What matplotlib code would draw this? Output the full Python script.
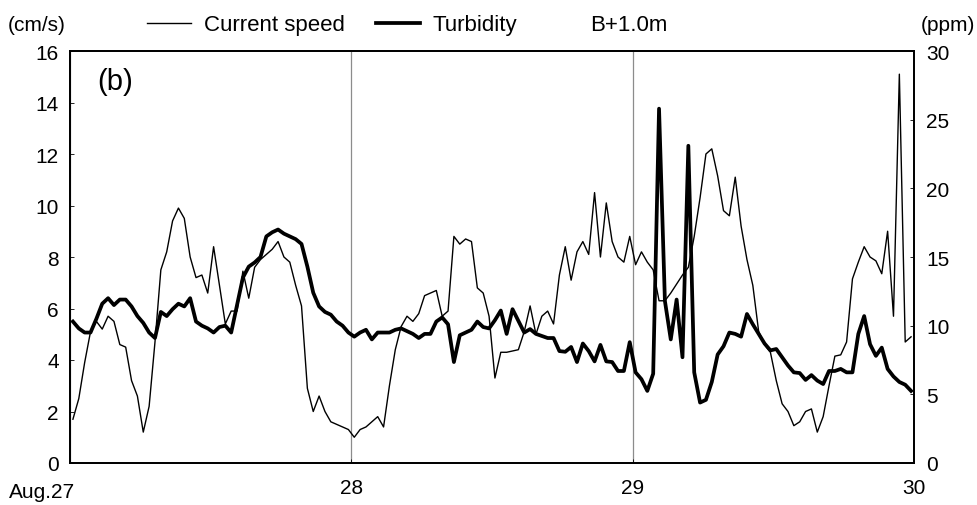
import numpy as np
import matplotlib
matplotlib.use('Agg')
import matplotlib.pyplot as plt

plt.rcParams['font.family'] = ['Liberation Sans', 'DejaVu Sans']

# half-hourly records starting Aug.27 00:15
hours = np.arange(0.25, 72, 0.5)

# current speed (cm/s)
speed = [1.7, 2.5, 3.9, 5.1, 5.5, 5.2, 5.7, 5.5, 4.6, 4.5,
         3.2, 2.6, 1.2, 2.2, 4.7, 7.5, 8.2, 9.4, 9.9, 9.5,
         8.0, 7.2, 7.3, 6.6, 8.4, 6.9, 5.4, 5.9, 5.9, 7.45,
         6.4, 7.6, 7.9, 8.1, 8.3, 8.6, 8.0, 7.8, 6.9, 6.1,
         2.9, 2.0, 2.6, 2.0, 1.6, 1.5, 1.4, 1.3, 1.0, 1.3,
         1.4, 1.6, 1.8, 1.4, 3.0, 4.4, 5.3, 5.7, 5.5, 5.8,
         6.5, 6.6, 6.7, 5.7, 5.9, 8.8, 8.5, 8.7, 8.6, 6.8,
         6.6, 5.7, 3.3, 4.3, 4.3, 4.35, 4.4, 5.1, 6.1, 5.0,
         5.7, 5.9, 5.4, 7.3, 8.4, 7.1, 8.2, 8.6, 8.1, 10.5,
         8.0, 10.1, 8.6, 8.0, 7.8, 8.8, 7.7, 8.2, 7.8, 7.5,
         6.3, 6.3, 6.6, 6.95, 7.3, 7.6, 8.8, 10.3, 12.0, 12.2,
         11.15, 9.8, 9.6, 11.1, 9.2, 7.9, 6.9, 5.1, 4.6, 4.3,
         3.2, 2.3, 2.0, 1.45, 1.6, 2.0, 2.1, 1.2, 1.8, 3.0,
         4.15, 4.2, 4.7, 7.15, 7.8, 8.4, 8.0, 7.85, 7.35, 9.0,
         5.7, 15.1, 4.7, 4.9]

# turbidity (ppm)
turbidity = [10.3, 9.8, 9.5, 9.5, 10.5, 11.6, 12.0, 11.5, 11.9, 11.9,
             11.4, 10.7, 10.2, 9.5, 9.1, 11.0, 10.7, 11.2, 11.6, 11.4,
             12.0, 10.3, 10.0, 9.8, 9.5, 9.9, 10.0, 9.5, 11.5, 13.5,
             14.3, 14.6, 15.0, 16.5, 16.8, 17.0, 16.7, 16.5, 16.3, 15.95,
             14.3, 12.4, 11.4, 11.0, 10.8, 10.3, 10.0, 9.5, 9.2, 9.5,
             9.7, 9.0, 9.5, 9.5, 9.5, 9.7, 9.8, 9.6, 9.4, 9.1,
             9.4, 9.4, 10.3, 10.6, 10.1, 7.35, 9.3, 9.5, 9.7, 10.3,
             9.9, 9.8, 10.4, 11.1, 9.4, 11.2, 10.35, 9.5, 9.75, 9.4,
             9.25, 9.1, 9.1, 8.15, 8.1, 8.45, 7.35, 8.7, 8.15, 7.4,
             8.6, 7.4, 7.35, 6.7, 6.7, 8.8, 6.6, 6.1, 5.25, 6.5,
             25.8, 11.8, 9.0, 11.9, 7.7, 23.1, 6.6, 4.4, 4.6, 5.9,
             7.9, 8.5, 9.5, 9.4, 9.2, 10.85, 10.1, 9.4, 8.7, 8.2,
             8.3, 7.7, 7.1, 6.6, 6.55, 6.05, 6.4, 6.0, 5.75, 6.7,
             6.7, 6.85, 6.6, 6.6, 9.4, 10.7, 8.65, 7.8, 8.4, 6.85,
             6.3, 5.9, 5.7, 5.25]

day_ticks = [27, 28, 29, 30]
day_labels = ['', '28', '29', '30']

days = 27 + hours / 24

fig = plt.figure(figsize=(9.78, 5.06), dpi=100)
ax = fig.add_axes([70 / 978, 42 / 506, 844 / 978, 412 / 506])
ax2 = ax.twinx()

l1, = ax.plot(days, speed, color='black', lw=1.0, label='Current speed')
l2, = ax2.plot(days, turbidity, color='black', lw=2.7, label='Turbidity')

ax.set_xlim(27, 30)
ax.set_ylim(0, 16)
ax2.set_ylim(0, 30)
ax.set_yticks(range(0, 17, 2))
ax2.set_yticks(range(0, 31, 5))
ax.set_xticks(day_ticks)
ax.set_xticklabels(day_labels)
ax.grid(axis='x', color='#8c8c8c', lw=0.9)

for a in (ax, ax2):
    for s in a.spines.values():
        s.set_linewidth(1.3)
ax.tick_params(axis='both', direction='in', length=3, width=0.6, labelsize=15)
ax.tick_params(axis='y', pad=8)
ax.tick_params(axis='x', pad=11)
ax2.tick_params(axis='y', direction='in', length=3, width=0.6, labelsize=15, pad=9)

# first day label sits left of the axis corner
ax.annotate('Aug.27', xy=(27, 0), xycoords=('data', 'axes fraction'),
            xytext=(4, -14), textcoords='offset points',
            ha='right', va='top', fontsize=15)

ax.text(0.032, 0.928, '(b)', transform=ax.transAxes, fontsize=21,
        ha='left', va='center')

fig.text(8 / 978, 0.949, '(cm/s)', fontsize=15, ha='left', va='center')
fig.text(975 / 978, 0.949, '(ppm)', fontsize=15, ha='right', va='center')
fig.text(590 / 978, 0.949, 'B+1.0m', fontsize=16, ha='left', va='center')

fig.legend(handles=[l1, l2], loc='center left', ncol=2,
           bbox_to_anchor=(147 / 978, 0.949), frameon=False, fontsize=16,
           handlelength=2.0, handletextpad=0.55, columnspacing=1.4,
           borderpad=0, borderaxespad=0)

fig.savefig('out.png', dpi=100)
